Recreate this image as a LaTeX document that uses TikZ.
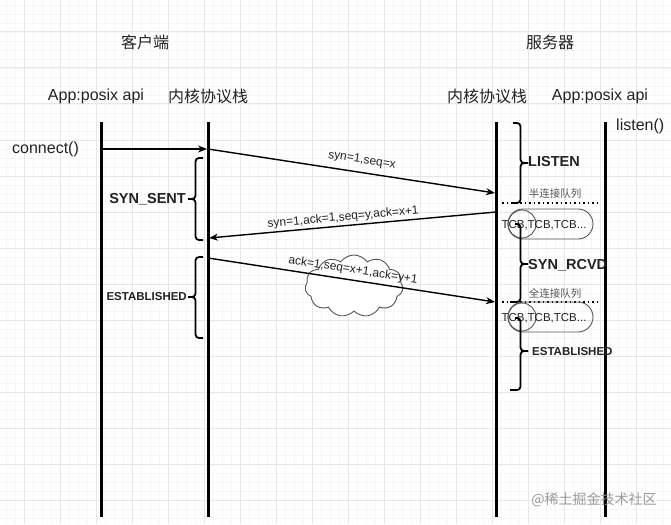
\documentclass[tikz,border=0pt]{standalone}
\usepackage{fontspec}
\setmainfont{Liberation Sans}
\newfontfamily\cjk{Noto Sans CJK SC}
\usetikzlibrary{arrows.meta,shapes.symbols}
\definecolor{gridmajor}{HTML}{E6E6E6}
\definecolor{gridminor}{HTML}{F6F6F6}
\definecolor{txt}{HTML}{222222}
\definecolor{soft}{HTML}{555555}
\definecolor{wm}{HTML}{9A9A9A}
\begin{document}
\begin{tikzpicture}[x=1pt,y=-1pt,
  lbl/.style={text=txt,font=\fontsize{16}{19}\selectfont,inner sep=0pt},
  msglbl/.style={text=txt,font=\fontsize{12}{14}\selectfont,inner sep=0pt},
  statebig/.style={text=txt,font=\bfseries\fontsize{14.5}{16}\selectfont,inner sep=0pt},
  statesmall/.style={text=txt,font=\bfseries\fontsize{11.5}{13}\selectfont,inner sep=0pt},
  queuelbl/.style={text=soft,font=\fontsize{10.5}{12}\selectfont,inner sep=0pt},
  tcblbl/.style={text=txt,font=\fontsize{11.5}{13}\selectfont,inner sep=0pt},
  lifeline/.style={line width=3pt},
  msg/.style={line width=1.4pt,-{Stealth[length=9pt,width=7pt]}},
  bracestroke/.style={line width=1.8pt,rounded corners=3.5pt},
  stadium/.style={draw=soft,line width=0.9pt,rounded corners=15pt,minimum width=85pt,minimum height=30pt,inner sep=0pt},
  qcirc/.style={draw=soft,line width=0.9pt,circle,minimum size=28pt,inner sep=0pt},
  dotline/.style={line width=1.5pt,dash pattern=on 1.5pt off 3pt},
]
% background and grid
\fill[white] (0,0) rectangle (671,524);
\useasboundingbox (0,0) rectangle (671,524);
\foreach \x in {6,15,...,671} \draw[gridminor,line width=0.5pt] (\x,0) -- (\x,524);
\foreach \y in {5,14,...,524} \draw[gridminor,line width=0.5pt] (0,\y) -- (671,\y);
\foreach \x in {24,60,...,671} \draw[gridmajor,line width=1pt] (\x,0) -- (\x,524);
\foreach \y in {32,68,...,524} \draw[gridmajor,line width=1pt] (0,\y) -- (671,\y);

% headings
\node[lbl] (client) at (145,42) {\cjk 客户端};
\node[lbl] (server) at (550,42) {\cjk 服务器};
\node[lbl] (app1) at (96,96) {App:posix api};
\node[lbl] (k1) at (208,96) {\cjk 内核协议栈};
\node[lbl] (k2) at (487,96) {\cjk 内核协议栈};
\node[lbl] (app2) at (600,96) {App:posix api};
\node[lbl,anchor=west] (connect) at (12,149) {connect()};
\node[lbl,anchor=west] (listen) at (616,126) {listen()};

% lifelines
\coordinate (a1t) at (101,122); \coordinate (a1b) at (101,517);
\coordinate (k1t) at (208,122); \coordinate (k1b) at (208,517);
\coordinate (k2t) at (496,122); \coordinate (k2b) at (496,517);
\coordinate (a2t) at (605,122); \coordinate (a2b) at (605,517);
\draw[lifeline] (a1t) -- (a1b);
\draw[lifeline] (k1t) -- (k1b);
\draw[lifeline] (k2t) -- (k2b);
\draw[lifeline] (a2t) -- (a2b);

% message anchors
\coordinate (m0s) at (101,149); \coordinate (m0e) at (207,149);
\coordinate (m1s) at (208,149); \coordinate (m1e) at (495,193);
\coordinate (m2s) at (496,212); \coordinate (m2e) at (209,238);
\coordinate (m3s) at (208,258); \coordinate (m3e) at (495,302);

% cloud
\node[cloud,draw=soft,line width=0.9pt,fill=white,cloud puffs=11,cloud puff arc=110,aspect=1.6,minimum width=98pt,minimum height=62pt,inner sep=0pt] (cloud) at (354,286) {};

\draw[msg] (m0s) -- (m0e);
\draw[msg] (m1s) -- node[msglbl,sloped,above=6pt,pos=0.53] (l1) {syn=1,seq=x} (m1e);
\draw[msg] (m2s) -- node[msglbl,sloped,above=2pt,pos=0.53] (l2) {syn=1,ack=1,seq=y,ack=x+1} (m2e);
\draw[msg] (m3s) -- node[msglbl,sloped,above=3.5pt,pos=0.5] (l3) {ack=1,seq=x+1,ack=y+1} (m3e);

% client braces
\draw[bracestroke] (203,158) -- (195.5,158) -- (195.5,199) -- (188,199);
\draw[bracestroke] (188,199) -- (195.5,199) -- (195.5,240) -- (203,240);
\node[statebig,anchor=east] (synsent) at (186,199) {SYN\_SENT};
\draw[bracestroke] (203,257) -- (195.5,257) -- (195.5,297) -- (188,297);
\draw[bracestroke] (188,297) -- (195.5,297) -- (195.5,338) -- (203,338);
\node[statesmall,anchor=east] (est1) at (187,297) {ESTABLISHED};

% server: LISTEN
\draw[bracestroke] (513,123) -- (520.5,123) -- (520.5,163) -- (528,163);
\draw[bracestroke] (528,163) -- (520.5,163) -- (520.5,203) -- (513,203);
\node[statebig,anchor=west] (listenst) at (528,162) {LISTEN};
\node[queuelbl] (half) at (555,194) {\cjk 半连接队列};
\draw[dotline] (502,203) -- (598,203);

% half queue
\node[stadium] (q1) at (550.5,224) {};
\node[qcirc] (c1) at (522,224) {};
\node[tcblbl] (t1) at (544,225) {TCB,TCB,TCB...};

% SYN_RCVD
\draw[bracestroke] (515,224) -- (520.5,224) -- (520.5,264) -- (528,264);
\draw[bracestroke] (528,264) -- (520.5,264) -- (520.5,302) -- (510,302);
\node[statebig,anchor=west] (synrcvd) at (528,265) {SYN\_RCVD};
\node[queuelbl] (full) at (555,293) {\cjk 全连接队列};
\draw[dotline] (502,302) -- (598,302);

% full queue
\node[stadium] (q2) at (550.5,317) {};
\node[qcirc] (c2) at (522,317) {};
\node[tcblbl] (t2) at (544,318) {TCB,TCB,TCB...};

% ESTABLISHED server
\draw[bracestroke] (515,318) -- (520.5,318) -- (520.5,351) -- (528,351);
\draw[bracestroke] (528,351) -- (520.5,351) -- (520.5,390) -- (510,390);
\node[statesmall,anchor=west] (est2) at (532,352) {ESTABLISHED};

% watermark
\node[text=wm,font=\fontsize{14}{16}\selectfont,inner sep=0pt] (wmark) at (594,500) {\cjk @稀土掘金技术社区};
\end{tikzpicture}
\end{document}
